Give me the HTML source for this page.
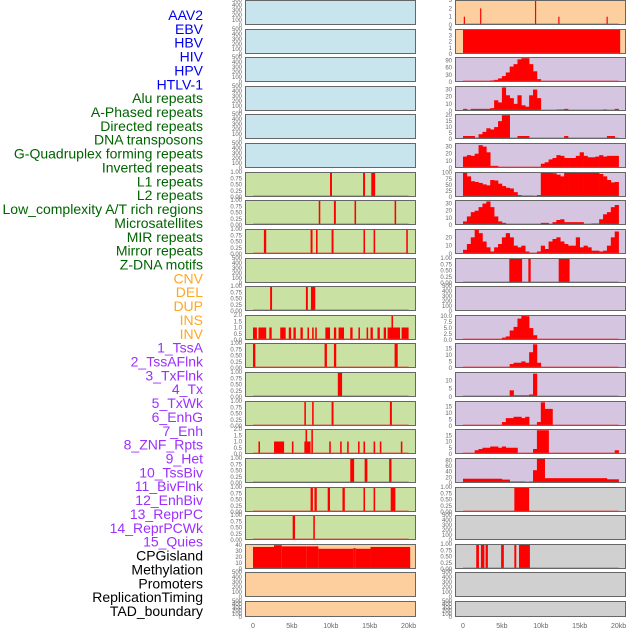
<!DOCTYPE html>
<html><head><meta charset="utf-8"><style>
body{margin:0;background:#fff;width:630px;height:630px;overflow:hidden}
svg{display:block}
.lab{font-family:"Liberation Sans",sans-serif;font-size:14px;text-anchor:end}
.tk{font-family:"Liberation Sans",sans-serif;font-size:6px;fill:#666;text-anchor:end}
.xt{font-family:"Liberation Sans",sans-serif;font-size:7px;fill:#666;text-anchor:middle}
</style></head><body>
<svg id="chart" width="630" height="630" xmlns="http://www.w3.org/2000/svg"></svg>
<script>
// ---- labels ----
const labelNames=["AAV2","EBV","HBV","HIV","HPV","HTLV-1","Alu repeats","A-Phased repeats","Directed repeats","DNA transposons","G-Quadruplex forming repeats","Inverted repeats","L1 repeats","L2 repeats","Low_complexity A/T rich regions","Microsatellites","MIR repeats","Mirror repeats","Z-DNA motifs","CNV","DEL","DUP","INS","INV","1_TssA","2_TssAFlnk","3_TxFlnk","4_Tx","5_TxWk","6_EnhG","7_Enh","8_ZNF_Rpts","9_Het","10_TssBiv","11_BivFlnk","12_EnhBiv","13_ReprPC","14_ReprPCWk","15_Quies","CPGisland","Methylation","Promoters","ReplicationTiming","TAD_boundary"];
const labelGroups=[6,13,5,15,5];
const groupColors=["#0000ee","#006400","#ffa726","#9b30ff","#000000"];
// ---- tick sets ----
const ticks500=[0,100,200,300,400,500];
const ticks1=[0,0.25,0.5,0.75,1.0];
const ticks2=[0,0.5,1.0,1.5,2.0];
// ---- segment data (kb start, kb end, value) ----
const aav2Starts=[0.1,2.2,9.25,12.25,18.45], aav2Ends=[0.25,2.35,9.4,12.4,18.6], aav2Vals=[1,2,3,1,1];
const ebvStarts=[0], ebvEnds=[20.2], ebvVals=[4];
const l1LStarts=[9.9,14.15,15.2], l1LEnds=[10.15,14.4,15.7], l1LVals=[1,1,1];
const l2LStarts=[8.45,10.4,13.05,18.2], l2LEnds=[8.65,10.65,13.25,18.4], l2LVals=[1,1,1,1];
const lcLStarts=[1.4,7.4,8.1,10.1,14.2,15.5,19.7], lcLEnds=[1.7,7.65,8.3,10.35,14.4,15.7,19.9], lcLVals=[1,1,1,1,1,1,1];
const zdnaStarts=[5.95,8.4,12.3], zdnaEnds=[7.6,8.7,13.7], zdnaVals=[1,1,1];
const cnvStarts=[2.2,6.8,7.45], cnvEnds=[2.45,7.05,8.0], cnvVals=[1,1,1];
const insStarts=[0,0.7,2.1,3.5,4.6,5.2,6.1,7.0,7.6,8.0,9.3,10.4,11.0,12.5,13.55,14.6,15.1,16.0,16.8,17.3,17.8,19.1];
const insEnds=[0.5,1.7,2.4,4.2,4.9,5.5,6.4,7.2,7.8,8.2,9.9,10.7,11.7,12.8,13.75,14.8,15.4,16.3,17.1,18.9,18.0,20.0];
const insVals=[1,1,1,1,1,1,1,1,1,1,1,1,1,1,1,1,1,1,1,1,2,1];
const tssAStarts=[0,9.2,10.4,18.2], tssAEnds=[0.3,9.5,10.7,18.6], tssAVals=[1,1,1,1];
const txStarts=[10.9], txEnds=[11.45], txVals=[1];
const enhGStarts=[6.6,7.6,10.1,17.6], enhGEnds=[6.8,7.8,10.35,17.85], enhGVals=[1,1,1,1];
const znfStarts=[0.7,2.7,5.0,6.6,6.75,7.5,9.8,11.2,12.1,13.5,14.2,15.5,16.3,19.0];
const znfEnds=[0.9,4.0,5.2,7.4,6.95,7.7,10.0,11.4,12.3,13.7,14.4,15.7,16.5,19.2];
const znfVals=[1,1,1,1,2,2,1,1,1,1,1,1,1,1];
const hetStarts=[12.5,14.35,17.5], hetEnds=[13.0,14.7,17.8], hetVals=[1,1,1];
const tssBivRStarts=[6.6], tssBivREnds=[8.5], tssBivRVals=[1];
const bivStarts=[7.4,7.9,9.6,11.5,14.2,15.5,17.7], bivEnds=[7.7,8.2,9.9,11.8,14.4,15.7,18.3], bivVals=[1,1,1,1,1,1,1];
const enhBivStarts=[5.1,7.75], enhBivEnds=[5.4,7.95], enhBivVals=[1,1];
const cpgStarts=[0,2.7,3.7,6.9,8.4,12.9,13.2,15.1], cpgEnds=[2.7,3.7,6.9,8.4,12.9,13.2,15.1,20.2], cpgVals=[37,40,38,38,34,35,34,37];
const methStarts=[1.7,2.3,2.9,4.9,6.6,7.2], methEnds=[2.05,2.75,3.2,5.25,6.85,8.6], methVals=[1,1,1,1,1,1];
// ---- binned data (0.5 kb bins from 0 kb) ----
const hivBins=[1,1,1,2,2,1,4,6,9,15,25,40,65,75,95,100,100,75,45,12,3,0,0,0,0,3,0,0,0,0,0,0,0,0,0,0,0,0,0,3];
const aluBins=[3,0,3,3,3,3,3,4,15,12,33,22,18,10,22,8,6,22,30,18,0,0,0,0,2,2,3,0,0,0,0,0,0,0,0,0,2,0,0,3];
const hpvBins=[2.5,2.5,2.5,1,4,6,9,8,10,15,20,20,0,0,2.5,2.5,2.5,0,0,0,0,0,0,0,0,0,2.5,0,0,0,0,0,0,0,0,0,0,2.5,2.5,0];
const htlvBins=[16,18,17,20,32,30,22,3,3,0,0,0,0,0,0,0,0,0,0,0,6,8,12,14,18,17,14,14,14,17,22,17,15,15,16,18,16,17,17,17];
const l1RBins=[100,85,65,62,58,52,48,70,68,55,45,38,35,20,8,5,5,5,3,8,100,100,100,98,92,85,100,100,100,100,100,100,100,100,100,95,85,70,60,62];
const l2RBins=[5,12,18,20,25,30,33,25,12,5,3,0,0,0,0,0,0,0,0,0,3,3,0,4,7,8,4,4,4,4,4,0,0,2,2,8,15,18,25,28];
const lcRBins=[5,12,20,30,25,15,8,3,8,12,20,25,20,10,8,10,3,0,0,3,10,6,15,18,20,15,12,10,10,20,8,10,8,4,4,3,4,10,20,27];
const invRBins=[0,0,0,0,0,0,0,0,0,0,1,1.5,4,5.5,9,10.5,10,5,2,0,0,0,0,0,0,0,0,0,0,0,0,0,0,0,0,0,0,0,0,0];
const tssAFBins=[0,0,0,0,0,0,0,0,0,0,0,0,3,4,4,5,4,12,18,4,0,0,0,0,0,0,0,0,0,0,0,0,0,0,0,0,0,0,0,0];
const txRBins=[0,0,0,0,0,0,0,0,0,0,0,0,4,1,1,1,1,1.5,14,0,0,0,0,0,0,0,0,0,0,0,0,0,0,0,0,0,0,0,0];
const enhRBins=[0,0,0,0,0,0,0,0,0,0,3,6,6,7,7,6,7,0,0,3,18,13,13,0,0,0,0,0,0,0,0,0,0,0,0,0,0,0,0,0];
const znfRBins=[0,0,0,3,4,5,5,6,6,5,6,5,5,5,0,0,0,0,4,19,19,19,0,0,0,0,0,0,0,0,0,0,0,0,0,0,0,0,0,3];
const hetRBins=[15,15,15,15,15,15,15,15,15,15,12,12,5,5,5,5,3,5,45,85,85,17,17,17,17,17,17,17,17,17,17,17,17,17,17,17,17,13,13,13];

const svg=document.getElementById('chart');
const NS="http://www.w3.org/2000/svg";
function mk(tag,attrs,parent){const e=document.createElementNS(NS,tag);for(const k in attrs)e.setAttribute(k,attrs[k]);(parent||svg).appendChild(e);return e;}

// labels
let li=0;
labelGroups.forEach((n,g)=>{for(let j=0;j<n;j++){
  const t=mk('text',{class:'lab',x:203,y:20+li*13.86,fill:groupColors[g]});
  t.textContent=labelNames[li];
  
  
  li++;}});

const BLUE="#c8e4ec",GREEN="#c9e1a3",ORANGE="#fdcf9e",PURPLE="#d6c5e1",GREY="#d0d0d0";
const S=(s,e,v)=>({type:'seg',s,e,v});
const B=(b)=>({type:'bin',b});
// [color, ymax, ticks, data, tickFmt]
const leftPanels=[
 [BLUE,500,ticks500,null],[BLUE,500,ticks500,null],[BLUE,500,ticks500,null],[BLUE,500,ticks500,null],[BLUE,500,ticks500,null],[BLUE,500,ticks500,null],
 [GREEN,1,ticks1,S(l1LStarts,l1LEnds,l1LVals)],
 [GREEN,1,ticks1,S(l2LStarts,l2LEnds,l2LVals)],
 [GREEN,1,ticks1,S(lcLStarts,lcLEnds,lcLVals)],
 [GREEN,500,ticks500,null],
 [GREEN,1,ticks1,S(cnvStarts,cnvEnds,cnvVals)],
 [GREEN,2,ticks2,S(insStarts,insEnds,insVals)],
 [GREEN,1,ticks1,S(tssAStarts,tssAEnds,tssAVals)],
 [GREEN,1,ticks1,S(txStarts,txEnds,txVals)],
 [GREEN,1,ticks1,S(enhGStarts,enhGEnds,enhGVals)],
 [GREEN,2,ticks2,S(znfStarts,znfEnds,znfVals)],
 [GREEN,1,ticks1,S(hetStarts,hetEnds,hetVals)],
 [GREEN,1,ticks1,S(bivStarts,bivEnds,bivVals)],
 [GREEN,1,ticks1,S(enhBivStarts,enhBivEnds,enhBivVals)],
 [ORANGE,42,[0,10,20,30,40],S(cpgStarts,cpgEnds,cpgVals)],
 [ORANGE,500,ticks500,null],[ORANGE,500,ticks500,null]];
const rightPanels=[
 [ORANGE,3,[0,1,2,3],S(aav2Starts,aav2Ends,aav2Vals)],
 [ORANGE,4,[0,1,2,3,4],S(ebvStarts,ebvEnds,ebvVals)],
 [PURPLE,105,[0,30,60,90],B(hivBins)],
 [PURPLE,35,[0,10,20,30],B(aluBins)],
 [PURPLE,21,[0,5,10,15,20],B(hpvBins)],
 [PURPLE,35,[0,10,20,30],B(htlvBins)],
 [PURPLE,103,[0,25,50,75,100],B(l1RBins)],
 [PURPLE,35,[0,10,20,30],B(l2RBins)],
 [PURPLE,30,[0,10,20],B(lcRBins)],
 [PURPLE,1,ticks1,S(zdnaStarts,zdnaEnds,zdnaVals)],
 [PURPLE,500,ticks500,null],
 [PURPLE,10.5,[0,2.5,5,7.5,10],B(invRBins)],
 [PURPLE,19,[0,5,10,15],B(tssAFBins)],
 [PURPLE,15,[0,5,10],B(txRBins)],
 [PURPLE,19,[0,5,10,15],B(enhRBins)],
 [PURPLE,20,[0,5,10,15],B(znfRBins)],
 [PURPLE,88,[0,20,40,60,80],B(hetRBins)],
 [GREY,1,ticks1,S(tssBivRStarts,tssBivREnds,tssBivRVals)],
 [GREY,500,ticks500,null],
 [GREY,1,ticks1,S(methStarts,methEnds,methVals)],
 [GREY,500,ticks500,null],[GREY,500,ticks500,null]];

function fmt(v,ticks){
  if(ticks===ticks1) return v.toFixed(2);
  if(ticks===ticks2) return v.toFixed(1);
  if(ticks.includes(2.5)) return v.toFixed(1);
  return String(v);
}
function drawPanel(p,col,row){
  const [color,ymax,ticks,data]=p;
  const px=col===0?245:455, pw=171;
  const top=Math.round(row*28.62), h=row===21?16:25;
  const x0=px+8, kbw=7.78;
  const xs=kb=>x0+kb*kbw;
  const ys=v=>top+h-v/ymax*h;
  const g=mk('g',{});
  
  
  mk('rect',{x:px,y:top,width:pw,height:h,fill:color},g);
  if(data){
    if(data.type==='seg'){
      data.s.forEach((s,i)=>{
        const r=mk('rect',{x:xs(s),y:ys(data.v[i]),width:Math.max(1.2,xs(data.e[i])-xs(s)),height:top+h-ys(data.v[i]),fill:'#ff0000'},g);
        
        
      });
    } else {
      data.b.forEach((v,i)=>{
        if(v<=0)return;
        const r=mk('rect',{x:xs(i*0.5),y:ys(v),width:0.5*kbw+0.3,height:top+h-ys(v),fill:'#ff0000'},g);
        
        
      });
    }
    mk('line',{x1:xs(0),x2:xs(20),y1:top+h-1,y2:top+h-1,stroke:'#e03030','stroke-opacity':0.45,'stroke-width':1.5},g);
  }
  mk('rect',{x:px+0.5,y:top+0.5,width:pw-1,height:h-1,fill:'none',stroke:'#666','stroke-width':1},g);
  ticks.forEach(t=>{
    const tt=mk('text',{class:'tk',x:px-3,y:ys(t)+2},g);
    tt.textContent=fmt(t,ticks);
    
    
  });
}
leftPanels.forEach((p,i)=>drawPanel(p,0,i));
rightPanels.forEach((p,i)=>drawPanel(p,1,i));
// x axis
const xTickKb=[0,5,10,15,20], xTickLabels=["0","5kb","10kb","15kb","20kb"];
[245,455].forEach(px=>{
  xTickKb.forEach((k,i)=>{
    const t=mk('text',{class:'xt',x:px+8+k*7.78,y:628});
    t.textContent=xTickLabels[i];
    
    
  });
});
</script>
</body></html>
